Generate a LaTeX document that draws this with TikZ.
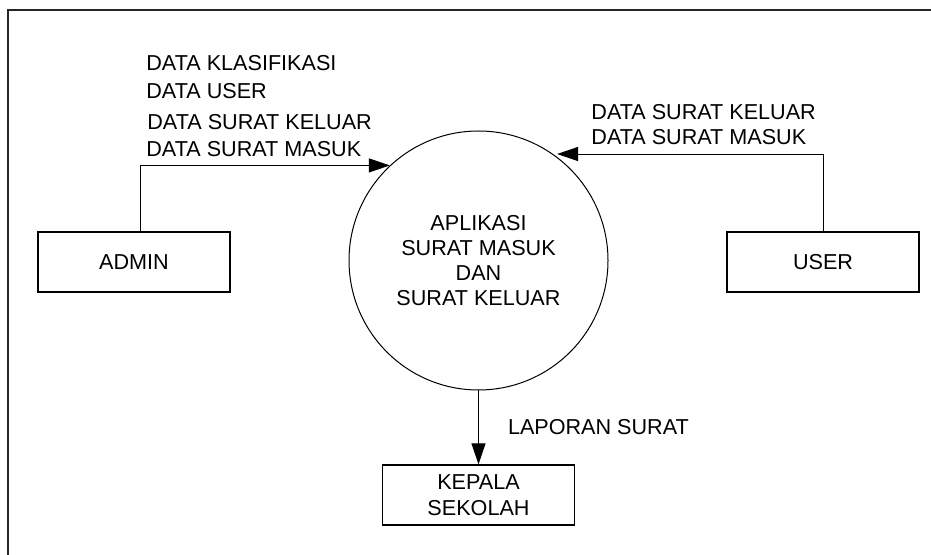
\documentclass[tikz,border=0pt]{standalone}
\usepackage{fontspec}
\setmainfont{Liberation Sans}
\usetikzlibrary{arrows.meta, calc}

\tikzset{
	proses/.style={draw, circle, minimum size=129.5pt, inner sep=0pt, align=center, line width=0.5pt, font=\fontsize{10.8}{12.5}\selectfont},
	entitas/.style={draw, rectangle, minimum width=96pt, minimum height=30pt, inner sep=0pt, align=center, line width=0.6pt, font=\fontsize{10.8}{13.3}\selectfont},
	aliran/.style={line width=0.5pt, -{Triangle[length=10.5pt, width=7pt]}},
	ket/.style={anchor=west, inner sep=0pt, font=\fontsize{10.8}{12.5}\selectfont}
}

\begin{document}
\begin{tikzpicture}[x=0.5pt, y=-0.5pt]
				\useasboundingbox (0, 0) rectangle (931, 555);
				
				% bingkai
				\draw [line width=0.8pt, black!85] (931, 10) -- (8, 10) -- (8, 555);
				
				\node[proses] (aplikasi) at (478.5, 260.5) {APLIKASI\\SURAT MASUK\\DAN\\SURAT KELUAR};
				\node[entitas] (admin) at (134, 262) {ADMIN};
				\node[entitas] (user) at (823, 262) {USER};
				\node[entitas] (kepala) at (478.5, 495) {KEPALA\\SEKOLAH};
				
				\node[ket] (klasifikasi) at (146, 63) {DATA KLASIFIKASI};
				\node[ket] (datauser) at (146, 91) {DATA USER};
				\node[ket] (keluarA) at (147, 122) {DATA SURAT KELUAR};
				\node[ket] (masukA) at (146, 149) {DATA SURAT MASUK};
				\node[ket] (keluarU) at (591, 112) {DATA SURAT KELUAR};
				\node[ket] (masukU) at (591, 137) {DATA SURAT MASUK};
				
				\draw [aliran] ([xshift=3pt]admin.north) |- (aplikasi.133.6);
				\draw [aliran, shorten >=2pt] (user.north) |- (aplikasi.55.3);
				\draw [aliran] (aplikasi.south) -- node[ket, right=14.5pt]{LAPORAN SURAT} (kepala.north);
			\end{tikzpicture}
\end{document}
